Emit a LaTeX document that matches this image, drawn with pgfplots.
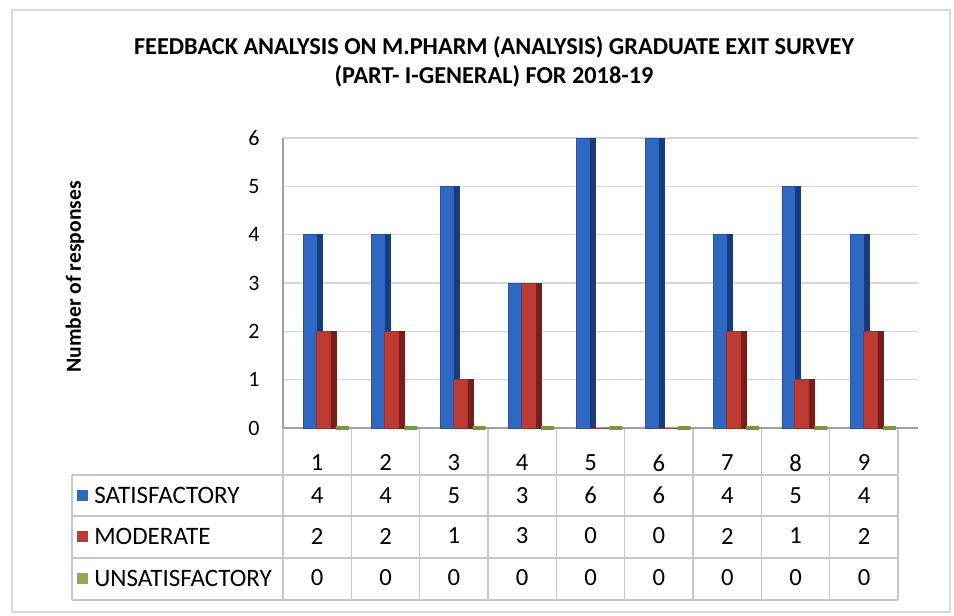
\documentclass[border=0pt]{standalone}
\usepackage{pgfplots}
\pgfplotsset{compat=1.18}
\usepackage{pgfplotstable}
\usepackage{fontspec}
\setmainfont{Carlito}
\definecolor{satblue}{HTML}{2F68C2}
\definecolor{satside}{HTML}{1B3C78}
\definecolor{modred}{HTML}{BE3B33}
\definecolor{modside}{HTML}{73201B}
\definecolor{unsgreen}{HTML}{8FAE4A}
\definecolor{gridc}{HTML}{D6D6D6}
\definecolor{tabc}{HTML}{C6C6C6}
\definecolor{axc}{HTML}{A0A0A0}

\pgfplotstableread{
q sat mod uns
1 4 2 0
2 4 2 0
3 5 1 0
4 3 3 0
5 6 0 0
6 6 0 0
7 4 2 0
8 5 1 0
9 4 2 0
}\datatable

\begin{document}
\begin{tikzpicture}[x=0.75pt,y=0.75pt]
\path (0,0) rectangle (954,615);
\draw[gray!30, line width=0.8pt] (12,3) rectangle (950,605);
% title
\node[font=\fontsize{18.2}{21}\selectfont\bfseries] at (494,568) {FEEDBACK ANALYSIS ON M.PHARM (ANALYSIS) GRADUATE EXIT SURVEY};
\node[font=\fontsize{18.2}{21}\selectfont\bfseries] at (494,539) {(PART- I-GENERAL) FOR 2018-19};
% y label
\node[rotate=90, font=\fontsize{16.2}{19}\selectfont\bfseries] at (75,338) {Number of responses};
% table rules
\foreach \xx in {283,351.33,419.67,488,556.33,624.67,693,761.33,829.67,898}
  \draw[tabc, line width=0.8pt] (\xx,187) -- (\xx,15);
\foreach \yy in {140,99,57,15}
  \draw[tabc, line width=0.8pt] (72,\yy) -- (898,\yy);
\draw[tabc, line width=0.8pt] (72,140) -- (72,15);
\begin{axis}[
  at={(212.25pt,140.25pt)}, anchor=south west,
  scale only axis, width=476.25pt, height=217.5pt,
  xmin=0.5, xmax=9.79, ymin=0, ymax=6,
  clip=false,
  axis lines=left, axis line style={draw=axc, line width=0.8pt, -},
  xtick=\empty, ytick={0,1,2,3,4,5,6},
  ymajorgrids, grid style={gridc, line width=0.8pt},
  major tick length=0pt,
  /pgf/number format/assume math mode=true,
  yticklabel style={font=\fontsize{16.5}{19}\selectfont, anchor=east, xshift=-14pt},
  every node near coord/.style={anchor=center, font=\fontsize{18.5}{21}\selectfont, black},
]
\addplot[ybar, bar width=0.205, bar shift=-0.10, fill=satblue, draw=satblue!80!black] table[x=q, y=sat] {\datatable};
\addplot[ybar, bar width=0.073, bar shift=0.037, fill=satside, draw=satside] table[x=q, y=sat] {\datatable};
\addplot[ybar, bar width=0.22, bar shift=0.095, fill=modred, draw=modred!80!black] table[x=q, y=mod] {\datatable};
\addplot[ybar, bar width=0.073, bar shift=0.24, fill=modside, draw=modside] table[x=q, y=mod] {\datatable};
\addplot[ybar, bar width=0.19, bar shift=0.37, fill=unsgreen, draw=unsgreen!85!black, line width=2.4pt] table[x=q, y=uns] {\datatable};
% data table text
\addplot[draw=none, mark=none, nodes near coords, point meta=explicit] table[x=q, y expr=-0.72, meta=q] {\datatable};
\addplot[draw=none, mark=none, nodes near coords, point meta=explicit] table[x=q, y expr=-1.39, meta=sat] {\datatable};
\addplot[draw=none, mark=none, nodes near coords, point meta=explicit] table[x=q, y expr=-2.235, meta=mod] {\datatable};
\addplot[draw=none, mark=none, nodes near coords, point meta=explicit] table[x=q, y expr=-3.10, meta=uns] {\datatable};
\end{axis}
% legend labels in the table
\fill[satblue] (77,114) rectangle (88,125);
\node[anchor=west, font=\fontsize{18.8}{21}\selectfont, inner sep=0pt] at (94,120) {SATISFACTORY};
\fill[modred] (77,73) rectangle (88,84);
\node[anchor=west, font=\fontsize{18.8}{21}\selectfont, inner sep=0pt] at (94,79) {MODERATE};
\fill[unsgreen] (77,31) rectangle (88,42);
\node[anchor=west, font=\fontsize{18.8}{21}\selectfont, inner sep=0pt] at (94,37) {UNSATISFACTORY};
\end{tikzpicture}
\end{document}
